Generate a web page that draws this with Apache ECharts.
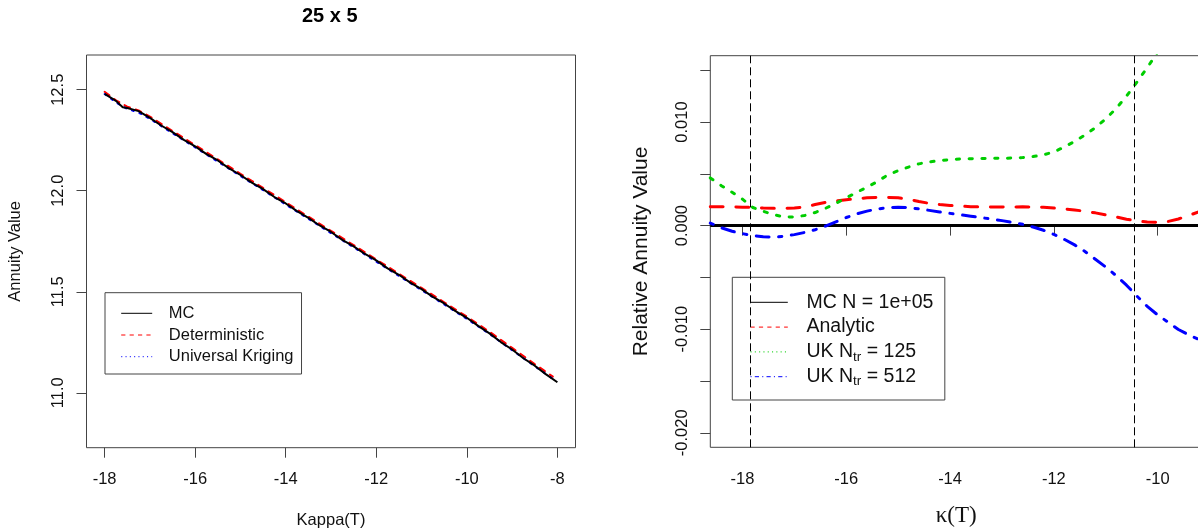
<!DOCTYPE html>
<html><head><meta charset="utf-8">
<script src="https://cdn.jsdelivr.net/npm/echarts@6/dist/echarts.min.js"></script>
<style>html,body{margin:0;padding:0;background:#fff}#c{width:1198px;height:532px}</style>
</head><body><div id="c"></div><script>
// ---------- data ----------
const titleText = '25 x 5';

// left panel: annuity value vs kappa
const kappaL = [-18.00,-17.75,-17.60,-17.50,-17.25,-17.00,-16.75,-16.50,-16.25,-16.00,-15.75,-15.50,-15.25,-15.00,-14.75,-14.50,-14.25,-14.00,-13.75,-13.50,-13.25,-13.00,-12.75,-12.50,-12.25,-12.00,-11.75,-11.50,-11.25,-11.00,-10.75,-10.50,-10.25,-10.00,-9.75,-9.50,-9.25,-9.00,-8.75,-8.50,-8.25,-8.00];
const mcL = [12.480,12.445,12.413,12.410,12.394,12.361,12.323,12.290,12.252,12.220,12.181,12.150,12.111,12.078,12.040,12.008,11.969,11.937,11.899,11.866,11.828,11.796,11.757,11.725,11.687,11.655,11.616,11.584,11.545,11.513,11.475,11.442,11.404,11.371,11.331,11.294,11.251,11.214,11.171,11.134,11.091,11.052];
const kappaL2 = [-18.0,-17.75,-17.5,-17.25,-17.0,-16.5,-16.0,-15.5,-15.0,-14.5,-14.0,-13.5,-13.0,-12.5,-12.0,-11.5,-11.0,-10.5,-10.0,-9.5,-9.0,-8.5,-8.1];
const detL = [12.490,12.448,12.416,12.398,12.367,12.296,12.226,12.155,12.084,12.014,11.943,11.872,11.801,11.731,11.660,11.589,11.519,11.448,11.377,11.302,11.222,11.142,11.080];
const ukL  = [12.479,12.437,12.405,12.387,12.356,12.285,12.215,12.144,12.073,12.003,11.932,11.861,11.790,11.720,11.649,11.578,11.508,11.437,11.366,11.291,11.211,11.131,11.069];

// right panel: relative annuity value vs kappa(T)
const kappaR = [-18.62,-18.4,-18.2,-18.0,-17.8,-17.6,-17.4,-17.2,-17.0,-16.8,-16.6,-16.4,-16.2,-16.0,-15.8,-15.6,-15.4,-15.2,-15.0,-14.8,-14.6,-14.4,-14.2,-14.0,-13.8,-13.6,-13.4,-13.2,-13.0,-12.8,-12.6,-12.4,-12.2,-12.0,-11.8,-11.6,-11.4,-11.2,-11.0,-10.8,-10.6,-10.4,-10.2,-10.0,-9.8,-9.6,-9.4,-9.2,-9.0];
const mcR = [0,0,0,0,0,0,0,0,0,0,0,0,0,0,0,0,0,0,0,0,0,0,0,0,0,0,0,0,0,0,0,0,0,0,0,0,0,0,0,0,0,0,0,0,0,0,0,0,0];
const analyticR = [0.00183,0.00182,0.00180,0.00178,0.00175,0.00170,0.00167,0.00167,0.00170,0.00180,0.00203,0.00224,0.00238,0.00249,0.00260,0.00268,0.00271,0.00271,0.00268,0.00255,0.00232,0.00215,0.00204,0.00195,0.00188,0.00183,0.00180,0.00179,0.00179,0.00180,0.00181,0.00180,0.00177,0.00170,0.00162,0.00151,0.00138,0.00123,0.00104,0.00083,0.00062,0.00045,0.00034,0.00031,0.00040,0.00064,0.00097,0.00135,0.00180];
const uk125R = [0.00460,0.00383,0.00322,0.00255,0.00175,0.00138,0.00105,0.00085,0.00083,0.00098,0.00126,0.00167,0.00215,0.00268,0.00320,0.00372,0.00425,0.00490,0.00530,0.00565,0.00596,0.00615,0.00628,0.00637,0.00643,0.00646,0.00648,0.00649,0.00650,0.00652,0.00657,0.00667,0.00683,0.00712,0.00758,0.00813,0.00875,0.00945,0.01030,0.01130,0.01250,0.01385,0.01525,0.01675,0.01835,0.02010,0.02190,0.02380,0.02580];
const uk512R = [0.00025,-0.00022,-0.00055,-0.00078,-0.00095,-0.00108,-0.00112,-0.00103,-0.00087,-0.00066,-0.00040,-0.00005,0.00037,0.00078,0.00113,0.00140,0.00160,0.00174,0.00178,0.00173,0.00162,0.00147,0.00132,0.00118,0.00104,0.00091,0.00077,0.00063,0.00048,0.00032,0.00012,-0.00014,-0.00045,-0.00085,-0.00132,-0.00186,-0.00250,-0.00325,-0.00400,-0.00483,-0.00575,-0.00680,-0.00780,-0.00862,-0.00932,-0.01003,-0.01055,-0.01100,-0.01140];
const cutoffsR = [-17.85, -10.45];

// ticks / labels
const xTicksL = [-18,-16,-14,-12,-10,-8];
const yTicksL = [11.0,11.5,12.0,12.5];
const xTicksR = [-18,-16,-14,-12,-10];
const yTicksR = [-0.02,-0.015,-0.01,-0.005,0,0.005,0.01,0.015];
const yLabelsR = [-0.02,-0.01,0,0.01];

// ---------- chart ----------
const pairs = (xs, ys) => xs.map((x, i) => [x, ys[i]]);
const FONT = 'Liberation Sans, Arial, Helvetica, sans-serif';
const AX = '#444';
const TXT = '#111';

function axisCommon(ticks, labels, margin, fmt, rotate) {
  return {
    type: 'value', scale: true,
    axisLine: { show: false },
    splitLine: { show: false },
    axisTick: { show: true, inside: false, length: 10, customValues: ticks, lineStyle: { color: AX, width: 1 } },
    axisLabel: { show: true, customValues: labels, margin: margin, rotate: rotate || 0, formatter: fmt,
      fontSize: 16.5, fontFamily: FONT, color: TXT },
    nameTextStyle: { fontSize: 16.5, fontFamily: FONT, color: TXT }
  };
}

const chart = echarts.init(document.getElementById('c'), null, { renderer: 'canvas' });

const richR = {
  'MC N = 1e+05': '{n|MC N = 1e+05}',
  'Analytic': '{n|Analytic}',
  'UK N_tr = 125': '{n|UK N}{s|tr}{n| = 125}',
  'UK N_tr = 512': '{n|UK N}{s|tr}{n| = 512}'
};

const hiddenSymbol = { color: 'transparent', borderColor: 'transparent', borderWidth: 0, opacity: 0 };

const option = {
  animation: false,
  backgroundColor: '#fff',
  title: {
    text: titleText, left: 302, top: 6.5, padding: 0,
    textStyle: { fontSize: 20, fontWeight: 'bold', fontFamily: FONT, color: '#000' }
  },
  grid: [
    { left: 86.5, top: 55, width: 489, height: 392.7, show: true, borderColor: AX, borderWidth: 1, backgroundColor: 'transparent', containLabel: false, outerBoundsMode: 'none' },
    { left: 710.3, top: 55.7, width: 491.7, height: 391.6, show: true, borderColor: AX, borderWidth: 1, backgroundColor: 'transparent', containLabel: false, outerBoundsMode: 'none' }
  ],
  xAxis: [
    Object.assign(axisCommon(xTicksL, xTicksL, 23, v => String(v)), {
      gridIndex: 0, min: -18.4, max: -7.6,
      name: 'Kappa(T)', nameLocation: 'middle', nameGap: 64
    }),
    Object.assign(axisCommon(xTicksR, xTicksR, 23.5, v => String(v)), {
      gridIndex: 1, min: -18.62, max: -9.145,
      name: 'κ(T)', nameLocation: 'middle', nameGap: 57,
      nameTextStyle: { fontSize: 23, fontFamily: 'Liberation Serif, DejaVu Serif, serif', color: TXT }
    })
  ],
  yAxis: [
    Object.assign(axisCommon(yTicksL, yTicksL, 20, v => v.toFixed(1), 90), {
      gridIndex: 0, min: 10.728, max: 12.672,
      name: 'Annuity Value', nameLocation: 'middle', nameGap: 63
    }),
    Object.assign(axisCommon(yTicksR, yLabelsR, 19, v => v.toFixed(3), 90), {
      gridIndex: 1, min: -0.0214, max: 0.0164,
      name: 'Relative Annuity Value', nameLocation: 'middle', nameGap: 58.5,
      nameTextStyle: { fontSize: 21, fontFamily: FONT, color: TXT }
    })
  ],
  legend: [
    {
      left: 105, top: 292.7, orient: 'vertical', selectedMode: false,
      padding: [10.1, 8, 6.8, 15.7], itemGap: 0.7, itemWidth: 31, itemHeight: 1,
      borderColor: AX, borderWidth: 1, backgroundColor: '#fff',
      itemStyle: hiddenSymbol,
      lineStyle: { width: 1, cap: 'butt' },
      textStyle: { fontSize: 16.5, fontFamily: FONT, color: TXT, lineHeight: 21, padding: [0, 0, 0, 11.6] },
      data: [
        { name: 'MC', lineStyle: { type: 'solid' } },
        { name: 'Deterministic', lineStyle: { type: [4.2, 4.2] } },
        { name: 'Universal Kriging', lineStyle: { type: [1.1, 3.2] } }
      ]
    },
    {
      left: 732.3, top: 277.3, orient: 'vertical', selectedMode: false,
      padding: [13, 11.5, 11.3, 17.7], itemGap: 0.8, itemWidth: 37.3, itemHeight: 1,
      borderColor: AX, borderWidth: 1, backgroundColor: '#fff',
      itemStyle: hiddenSymbol,
      lineStyle: { width: 1, cap: 'butt' },
      formatter: name => richR[name] || name,
      textStyle: {
        fontSize: 19.5, fontFamily: FONT, color: TXT, lineHeight: 24, padding: [0, 0, 0, 13.7],
        rich: {
          n: { fontSize: 19.5, fontFamily: FONT, color: TXT, lineHeight: 24 },
          s: { fontSize: 13.5, fontFamily: FONT, color: TXT, lineHeight: 12, verticalAlign: 'bottom' }
        }
      },
      data: [
        { name: 'MC N = 1e+05', lineStyle: { type: 'solid' } },
        { name: 'Analytic', lineStyle: { type: [4.2, 4.2] } },
        { name: 'UK N_tr = 125', lineStyle: { type: [1.1, 3.2] } },
        { name: 'UK N_tr = 512', lineStyle: { type: [1.1, 3.2, 4.2, 3.2] } }
      ]
    }
  ],
  series: [
    { name: 'Deterministic', type: 'line', xAxisIndex: 0, yAxisIndex: 0, data: pairs(kappaL2, detL),
      symbol: 'none', smooth: false, color: '#ff0000',
      lineStyle: { color: '#ff0000', width: 2, type: [6, 6], cap: 'round' } },
    { name: 'Universal Kriging', type: 'line', xAxisIndex: 0, yAxisIndex: 0, data: pairs(kappaL2, ukL),
      symbol: 'none', color: '#0000ff',
      lineStyle: { color: '#0000ff', width: 2, type: [2, 6], cap: 'round' } },
    { name: 'MC', type: 'line', xAxisIndex: 0, yAxisIndex: 0, data: pairs(kappaL, mcL),
      symbol: 'none', color: '#000000',
      lineStyle: { color: '#000000', width: 2 } },

    { name: 'MC N = 1e+05', type: 'line', xAxisIndex: 1, yAxisIndex: 1, data: pairs(kappaR, mcR),
      symbol: 'none', color: '#000000', clip: true,
      lineStyle: { color: '#000000', width: 3 },
      markLine: {
        silent: true, symbol: 'none', animation: false,
        label: { show: false },
        lineStyle: { color: '#000', width: 1, type: [8, 4] },
        data: cutoffsR.map(v => ({ xAxis: v }))
      } },
    { name: 'Analytic', type: 'line', xAxisIndex: 1, yAxisIndex: 1, data: pairs(kappaR, analyticR),
      symbol: 'none', color: '#ff0000', clip: true,
      lineStyle: { color: '#ff0000', width: 3, type: [12.8, 12.8], cap: 'round' } },
    { name: 'UK N_tr = 125', type: 'line', xAxisIndex: 1, yAxisIndex: 1, data: pairs(kappaR, uk125R),
      symbol: 'none', color: '#00cd00', clip: true,
      lineStyle: { color: '#00cd00', width: 3, type: [3.2, 9.6], cap: 'round' } },
    { name: 'UK N_tr = 512', type: 'line', xAxisIndex: 1, yAxisIndex: 1, data: pairs(kappaR, uk512R),
      symbol: 'none', color: '#0000ff', clip: true,
      lineStyle: { color: '#0000ff', width: 3, type: [3.2, 9.6, 12.8, 9.6], cap: 'round' } }
  ]
};
chart.setOption(option);
</script></body></html>
